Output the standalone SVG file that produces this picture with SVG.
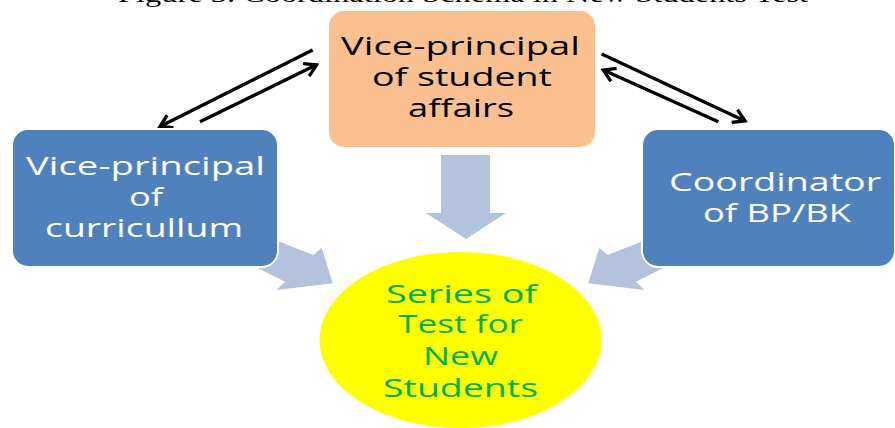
<svg xmlns="http://www.w3.org/2000/svg" width="895" height="428" viewBox="0 0 895 428">
<style>
.cap{font-family:"Liberation Serif","Times New Roman",serif;font-size:24px;fill:#000}
.t{font-family:"Open Sans","Noto Sans",sans-serif;font-size:25px;text-anchor:middle}
.blk{fill:#000}
.wht{fill:#fff}
.grn{fill:#00B050}
.blue{fill:#4F81BD;stroke:#fff;stroke-width:2}
.orange{fill:#FAC090;stroke:#fff;stroke-width:2}
.block{fill:#B3C2DD}
.line{stroke:#000;stroke-width:3.3;fill:none;marker-end:url(#ah)}
</style>
<defs>
<marker id="ah" viewBox="0 0 16 16" refX="13" refY="8" markerWidth="16" markerHeight="16" markerUnits="userSpaceOnUse" orient="auto">
<path d="M1.5,1 L13,8 L1.5,15" fill="none" stroke="#000" stroke-width="3.3"/>
</marker>
</defs>
<rect width="895" height="428" fill="#fff"/>
<text class="cap" x="118" y="2" textLength="690" lengthAdjust="spacingAndGlyphs">Figure 3. Coordination Schema in New Students Test</text>
<g id="connectors">
<polygon class="block" points="441,155 490,155 490,213 506,213 466,239 426,213 441,213"/>
<polygon class="block" points="265,236 313.3,255 321.7,247.7 332.7,283.3 276.7,290 285,281.7 250,264"/>
<polygon class="block" points="656,236 607.7,255 599.3,247.7 588.3,283.3 644.3,290 636,281.7 671,264"/>
<path class="line" d="M312.7,50 L160,126.5"/>
<path class="line" d="M200,121.7 L316.5,64.8"/>
<path class="line" d="M601.7,54 L745,120.9"/>
<path class="line" d="M718.3,121.7 L603.3,70.1"/>
</g>
<g id="node-student-affairs">
<rect class="orange" x="328" y="10" width="268" height="138" rx="16"/>
<text class="t blk" x="460.5" y="55" textLength="239" lengthAdjust="spacingAndGlyphs">Vice-principal</text>
<text class="t blk" x="462" y="86" textLength="180" lengthAdjust="spacingAndGlyphs">of student</text>
<text class="t blk" x="461" y="117" textLength="106" lengthAdjust="spacingAndGlyphs">affairs</text>
</g>
<g id="node-curriculum">
<rect class="blue" x="12" y="129" width="266" height="138" rx="16"/>
<text class="t wht" x="145.5" y="175" textLength="239" lengthAdjust="spacingAndGlyphs">Vice-principal</text>
<text class="t wht" x="146" y="206" textLength="34" lengthAdjust="spacingAndGlyphs">of</text>
<text class="t wht" x="144" y="237" textLength="198" lengthAdjust="spacingAndGlyphs">curricullum</text>
</g>
<g id="node-bpbk">
<rect class="blue" x="642" y="129" width="253" height="138" rx="16"/>
<text class="t wht" x="775" y="191" textLength="212" lengthAdjust="spacingAndGlyphs">Coordinator</text>
<text class="t wht" x="777" y="222" textLength="148" lengthAdjust="spacingAndGlyphs">of BP/BK</text>
</g>
<g id="node-test">
<ellipse cx="460.5" cy="340" rx="141" ry="88" fill="#FFFF00"/>
<text class="t grn" x="461.5" y="303" textLength="151" lengthAdjust="spacingAndGlyphs">Series of</text>
<text class="t grn" x="460.5" y="333" textLength="125" lengthAdjust="spacingAndGlyphs">Test for</text>
<text class="t grn" x="460.5" y="365" textLength="75" lengthAdjust="spacingAndGlyphs">New</text>
<text class="t grn" x="460.5" y="397" textLength="155" lengthAdjust="spacingAndGlyphs">Students</text>
</g>
</svg>
